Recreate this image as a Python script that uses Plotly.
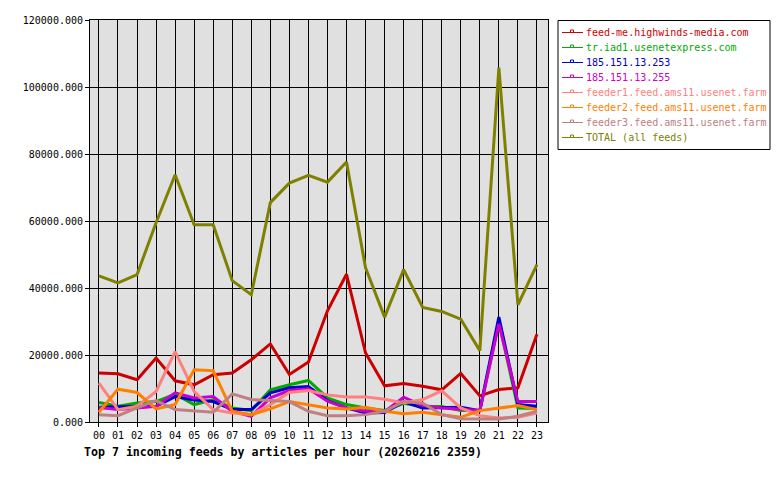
import plotly.graph_objects as go

hours = ["%02d" % h for h in range(24)]

feed_me = [14600, 14400, 12600, 19100, 12300, 11100, 14100, 14600, 18600, 23300, 14200, 17900,
           33200, 44100, 20600, 10800, 11500, 10700, 9600, 14500, 7800, 9700, 10200, 26200]
tr_iad1 = [5800, 4700, 5700, 6100, 8300, 5200, 6600, 4200, 3400, 9600, 11100, 12400,
           7200, 5200, 4200, 3400, 5600, 4600, 4600, 3400, 3400, 30000, 4200, 4000]
ip_253 = [4400, 4400, 4600, 4700, 7600, 6600, 6100, 3700, 3700, 8700, 10200, 10600,
          6400, 4200, 2700, 2800, 6000, 4200, 4400, 4400, 3400, 31300, 5200, 4700]
ip_255 = [4300, 3700, 4200, 4700, 8700, 7200, 7600, 3200, 1700, 7200, 9400, 9900,
          6200, 4200, 3200, 3100, 7400, 4900, 4200, 3700, 3400, 29300, 6100, 6100]
feeder1 = [11600, 3700, 4700, 9100, 21000, 9100, 3700, 2700, 2200, 5200, 8800, 9400,
           8100, 7500, 7500, 6800, 5700, 6700, 9300, 4200, 1900, 1200, 1400, 2700]
feeder2 = [2900, 9800, 8800, 3900, 5200, 15600, 15300, 3200, 2200, 3900, 6100, 5200,
           4200, 3900, 4400, 3200, 2500, 2900, 2200, 1400, 3400, 4200, 4900, 3700]
feeder3 = [2200, 1900, 4200, 6400, 3700, 3200, 2900, 8400, 6700, 6400, 6100, 3200,
           1900, 1900, 2200, 3200, 6100, 5600, 2200, 1000, 900, 900, 1700, 3200]
total = [43600, 41500, 44000, 59500, 73800, 58900, 58900, 42200, 38000, 65500, 71300, 73600,
         71600, 77600, 46000, 31300, 45500, 34200, 33000, 30700, 21300, 105800, 35000, 47000]

names = ["feed-me.highwinds-media.com", "tr.iad1.usenetexpress.com", "185.151.13.253",
         "185.151.13.255", "feeder1.feed.ams11.usenet.farm", "feeder2.feed.ams11.usenet.farm",
         "feeder3.feed.ams11.usenet.farm", "TOTAL (all feeds)"]
series = [feed_me, tr_iad1, ip_253, ip_255, feeder1, feeder2, feeder3, total]
colors = ["#cc0000", "#00aa00", "#0000cc", "#cc00cc", "#ff8080", "#ff8000", "#c08080", "#808000"]

MONO = "DejaVu Sans Mono"
x = list(range(24))

# plot area in pixels
L, R, T, B = 90, 548, 20, 422
W, H = 780, 480


def px(xp):
    return (xp - L) / (R - L)


def py(yp):
    return (B - yp) / (B - T)


fig = go.Figure()
for name, ys, c in zip(names, series, colors):
    fig.add_trace(go.Scatter(
        x=x, y=ys, mode="lines", line=dict(color=c, width=3),
        name=name, showlegend=False,
    ))

# manual legend (box, line samples with tiny marker, coloured labels)
shapes = [dict(type="rect", xref="paper", yref="paper",
               x0=px(558), x1=px(770), y0=py(20.5), y1=py(149.5),
               line=dict(color="black", width=1), fillcolor="white", layer="above")]
annotations = []
for i, (name, c) in enumerate(zip(names, colors)):
    yrow = 32.5 + 15 * i
    shapes.append(dict(type="line", xref="paper", yref="paper",
                       x0=px(562), x1=px(583), y0=py(yrow), y1=py(yrow),
                       line=dict(color=c, width=1), layer="above"))
    shapes.append(dict(type="rect", xref="paper", yref="paper",
                       x0=px(570.5), x1=px(573.5), y0=py(yrow), y1=py(yrow - 2.5),
                       line=dict(color=c, width=1), fillcolor="white", layer="above"))
    annotations.append(dict(text=name, xref="paper", yref="paper",
                            x=px(584), y=py(yrow), xanchor="left", yanchor="middle",
                            showarrow=False, font=dict(family=MONO, size=10, color=c)))

annotations.append(dict(
    text="<b>Top 7 incoming feeds by articles per hour (20260216 2359)</b>",
    xref="paper", yref="paper", x=px(82), y=py(452),
    xanchor="left", yanchor="middle", showarrow=False,
    font=dict(family=MONO, size=11.6, color="black"),
))

fig.update_layout(
    width=W, height=H,
    margin=dict(l=L, r=W - R, t=T, b=H - B),
    paper_bgcolor="white", plot_bgcolor="#e0e0e0",
    font=dict(family=MONO, size=10, color="black"),
    showlegend=False,
    xaxis=dict(
        range=[-0.47, 23.58], tickvals=x, ticktext=hours,
        showgrid=True, gridcolor="black", gridwidth=1,
        showline=True, linecolor="black", linewidth=1, mirror=True,
        ticks="outside", ticklen=4, tickcolor="black",
        zeroline=False, tickfont=dict(family=MONO, size=10),
    ),
    yaxis=dict(
        range=[0, 120000], dtick=20000, tickformat=".3f",
        showgrid=True, gridcolor="black", gridwidth=1,
        showline=True, linecolor="black", linewidth=1, mirror=True,
        ticks="outside", ticklen=4, tickcolor="black",
        zeroline=False, tickfont=dict(family=MONO, size=10),
    ),
    shapes=shapes,
    annotations=annotations,
)

fig.write_html("out.html")
